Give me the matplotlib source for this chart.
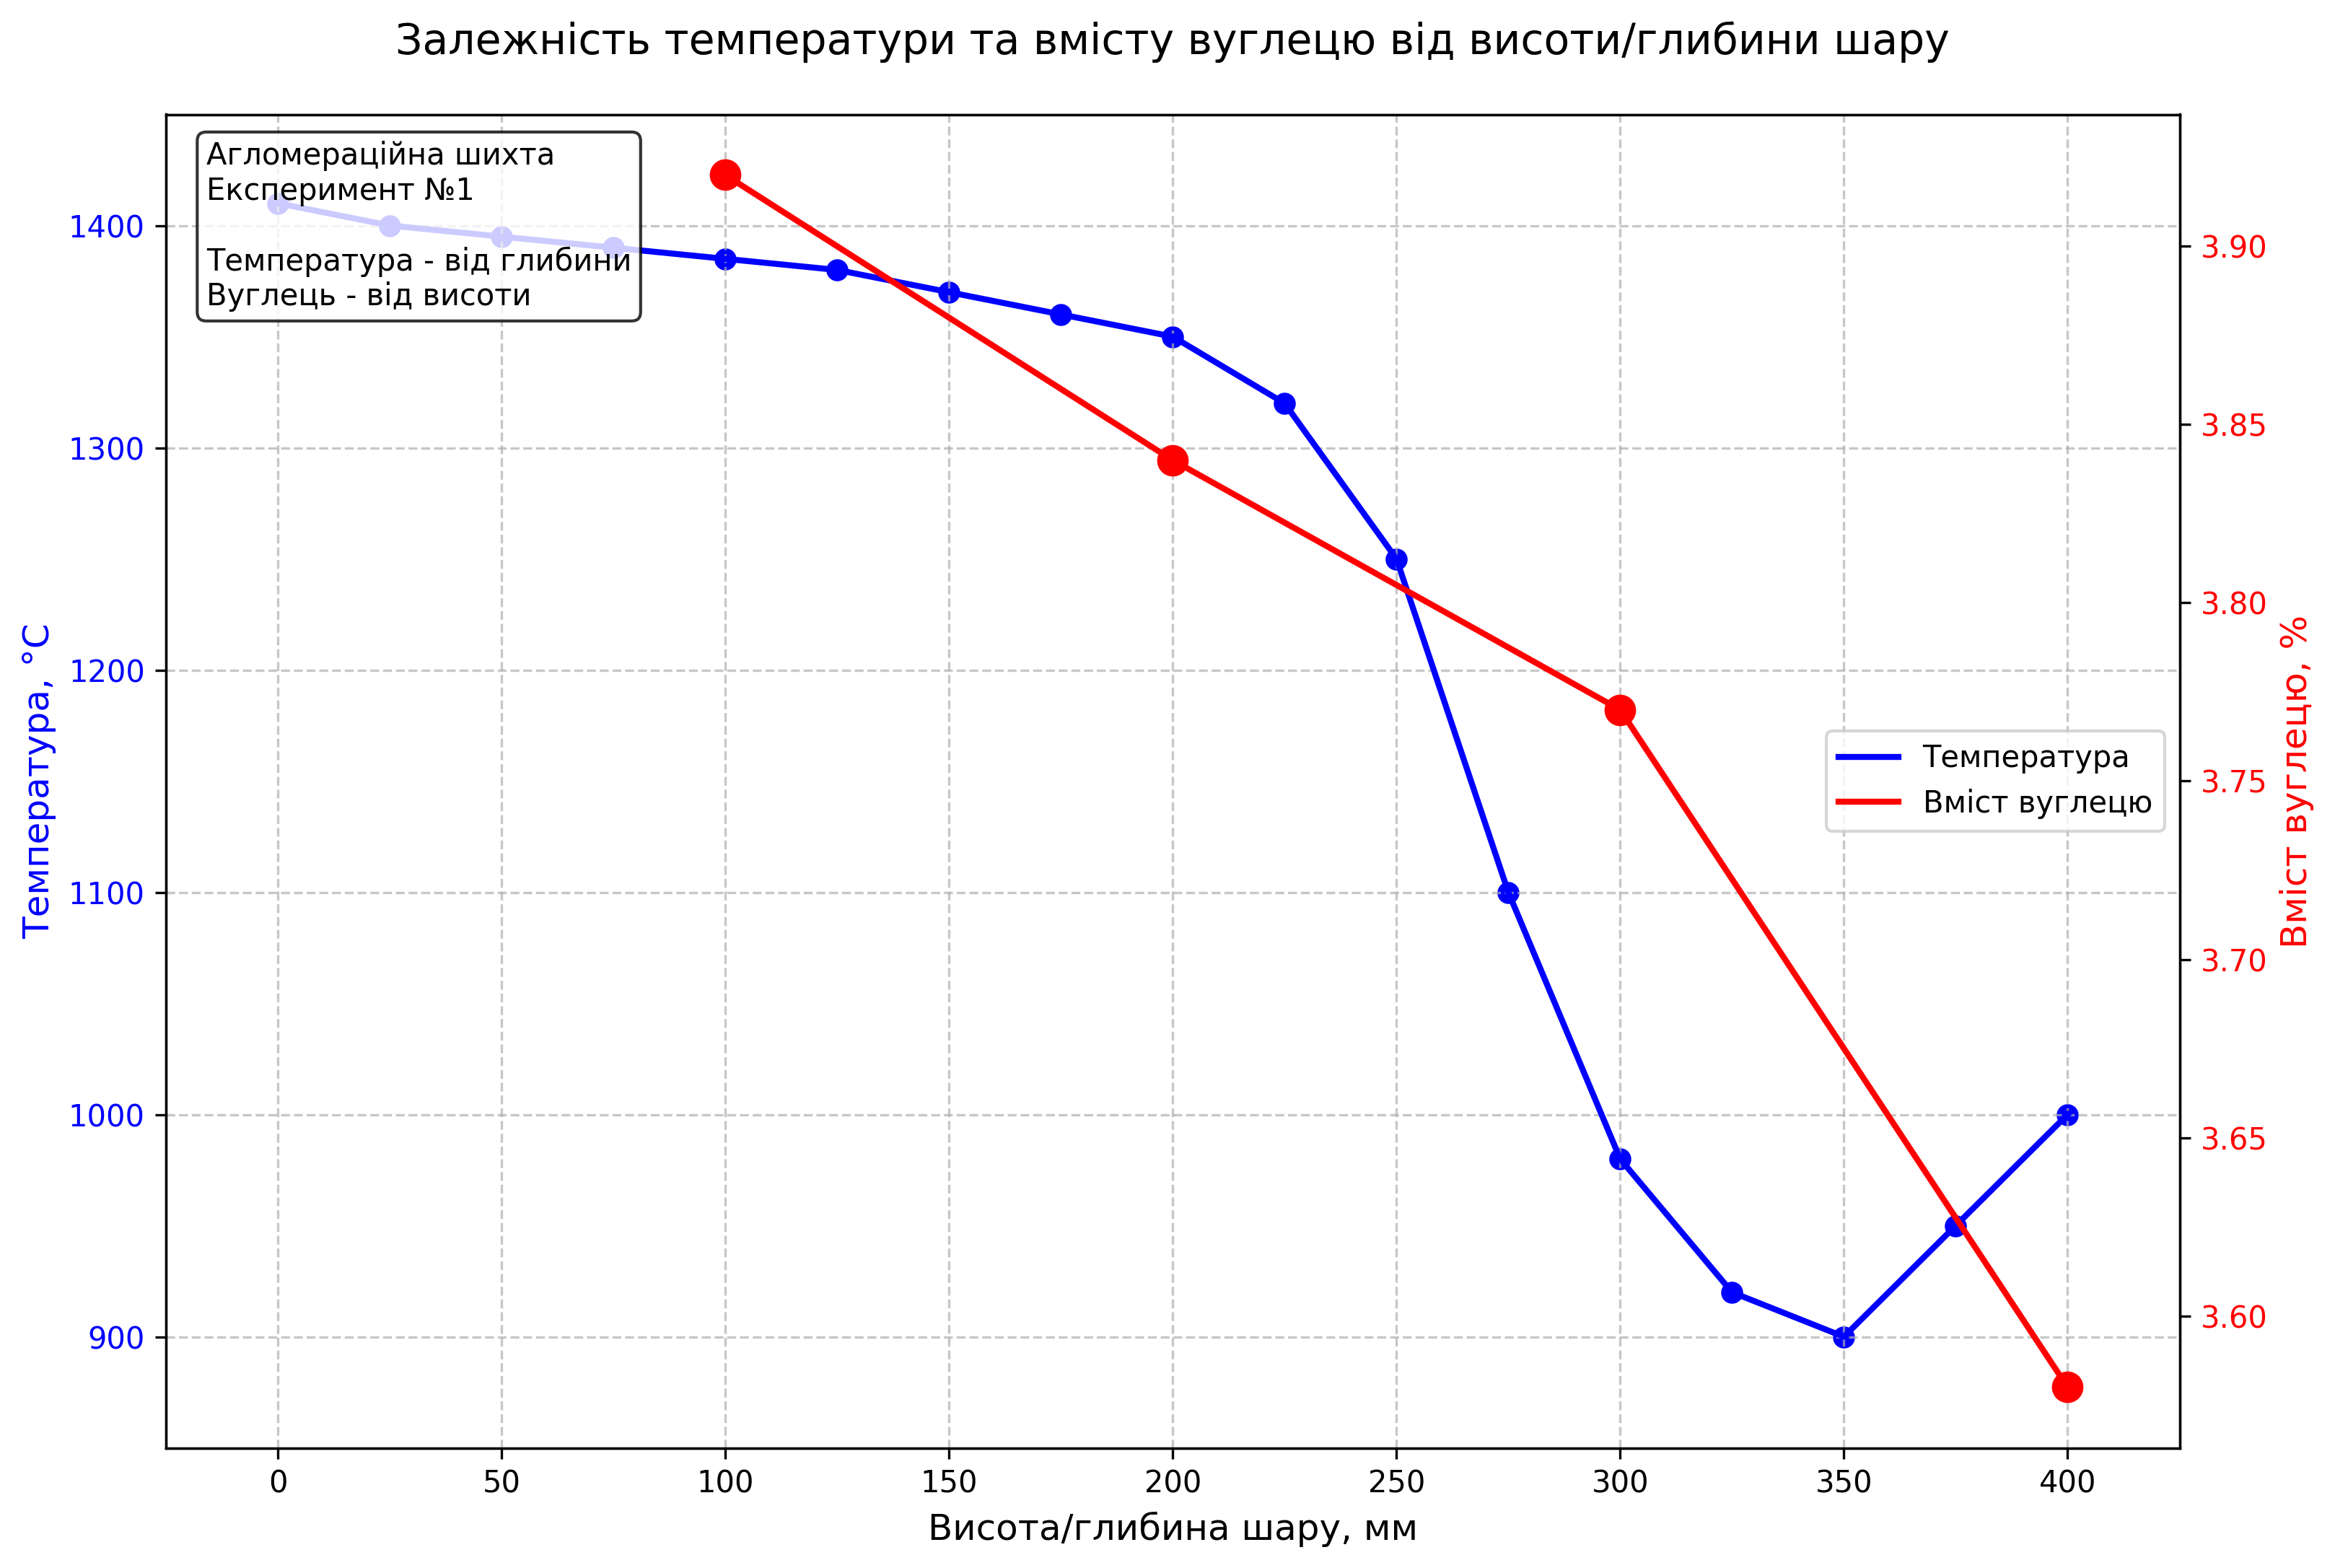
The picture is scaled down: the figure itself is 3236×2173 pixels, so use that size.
import numpy as np
import matplotlib
matplotlib.use("Agg")
import matplotlib.pyplot as plt

# Depth points for temperature, mm
depth = np.array([0, 25, 50, 75, 100, 125, 150, 175, 200, 225, 250, 275, 300, 325, 350, 375, 400])
temperature = np.array([1410, 1400, 1395, 1390, 1385, 1380, 1370, 1360, 1350, 1320, 1250,
                        1100, 980, 920, 900, 950, 1000])

# Height points for carbon content, mm
height = np.array([100, 200, 300, 400])
carbon = np.array([3.92, 3.84, 3.77, 3.58])

fig, ax1 = plt.subplots(figsize=(3236 / 300, 2173 / 300))
fig.subplots_adjust(left=230 / 3236, right=3020.5 / 3236,
                    top=1 - 158.5 / 2173, bottom=1 - 2006.5 / 2173)

ax1.plot(depth, temperature, color='blue', lw=2, label='Температура')
ax1.scatter(depth, temperature, color='blue', s=40)
ax1.set_xlabel('Висота/глибина шару, мм', fontsize=12)
ax1.set_ylabel('Температура, °C', color='blue', fontsize=12)
ax1.tick_params(axis='y', labelcolor='blue')
ax1.set_ylim(850, 1450)
ax1.set_xlim(-25, 425)
ax1.grid(True, linestyle='--', alpha=0.7)

ax2 = ax1.twinx()
ax2.plot(height, carbon, color='red', lw=2, label='Вміст вуглецю')
ax2.scatter(height, carbon, color='red', s=90)
ax2.set_ylabel('Вміст вуглецю, %', color='red', fontsize=12)
ax2.tick_params(axis='y', labelcolor='red')

lines = ax1.get_lines()[:1] + ax2.get_lines()[:1]
ax2.legend(lines, [l.get_label() for l in lines], loc='center right')

ax1.text(0.02, 0.98,
         'Агломераційна шихта\nЕксперимент №1\n\nТемпература - від глибини\nВуглець - від висоти',
         transform=ax1.transAxes, fontsize=10, va='top', zorder=10,
         bbox=dict(boxstyle='round', facecolor='white', alpha=0.8))

plt.title('Залежність температури та вмісту вуглецю від висоти/глибини шару', fontsize=14, pad=20)
fig.savefig('out.png', dpi=300)
